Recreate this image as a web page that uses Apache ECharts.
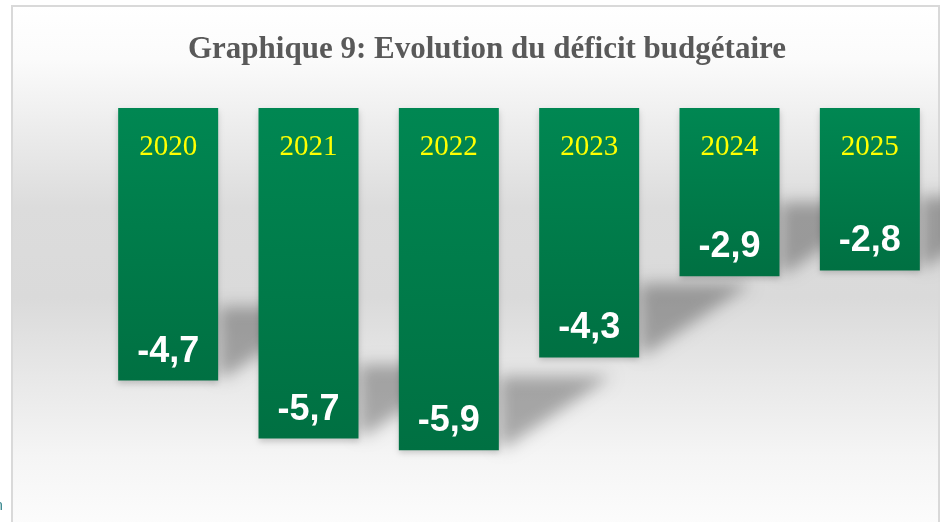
<!DOCTYPE html>
<html lang="fr">
<head>
    <meta charset="UTF-8">
    <title>Graphique 9</title>
    <style>
        *{
            padding: 0;
            margin: 0;
        }
        .EC{
            width: 940px;
            height: 522px;
            background: #fff;
        }
    </style>
</head>
<body>
<div class="EC"></div>
<script src="https://cdn.jsdelivr.net/npm/echarts@6/dist/echarts.min.js"></script>
<script>
    const years = ['2020', '2021', '2022', '2023', '2024', '2025']
    const deficit = [-4.7, -5.7, -5.9, -4.3, -2.9, -2.8]

    const fmt = v => String(v).replace('.', ',')

    window.onload = () => {
        let EC = echarts.init(document.querySelector('.EC'))
        let option = {
            animation: false,
            title: {
                text: 'Graphique 9: Evolution du déficit budgétaire',
                left: 183,
                top: 29,
                textStyle: {
                    fontFamily: 'Liberation Serif',
                    fontWeight: 'bold',
                    fontSize: 31,
                    color: '#595959'
                }
            },
            // cadre + fond dégradé
            graphic: [{
                type: 'rect',
                z: -10,
                shape: { x: 12, y: 6, width: 927, height: 530 },
                style: {
                    fill: new echarts.graphic.LinearGradient(0, 0, 0, 1, [
                        { offset: 0, color: '#ffffff' },
                        { offset: 0.1, color: '#fbfbfb' },
                        { offset: 0.2, color: '#f0f0f0' },
                        { offset: 0.38, color: '#dcdcdc' },
                        { offset: 0.55, color: '#dadada' },
                        { offset: 0.7, color: '#e8e8e8' },
                        { offset: 0.85, color: '#f5f5f5' },
                        { offset: 1, color: '#fdfdfd' }
                    ]),
                    stroke: '#d9d9d9',
                    lineWidth: 2
                }
            }, {
                type: 'text',
                left: -5,
                top: 499,
                style: { text: 'n', fontSize: 14, fill: '#2a7f86', fontFamily: 'Liberation Sans' }
            }],
            grid: {
                left: 98,
                top: 108,
                width: 843,
                height: 406
            },
            xAxis: {
                type: 'category',
                data: years,
                position: 'top',
                z: 10,
                axisLine: { show: false },
                axisTick: { show: false },
                axisLabel: {
                    inside: true,
                    margin: 25,
                    color: '#ffff00',
                    fontFamily: 'Liberation Serif',
                    fontSize: 29
                }
            },
            yAxis: {
                type: 'value',
                min: -7,
                max: 0,
                show: false
            },
            series: [{
                // ombre portée des barres (forme hors champ, seule l'ombre floue est visible)
                type: 'custom',
                z: 1,
                clip: false,
                data: deficit.map((v, i) => [i, v]),
                encode: { x: 0, y: 1 },
                renderItem: (params, api) => {
                    let p = api.coord([api.value(0), api.value(1)])
                    let right = p[0] + 50 - 3000
                    let bottom = p[1]
                    return {
                        type: 'polygon',
                        shape: {
                            points: [
                                [right, bottom - 74],
                                [right + 112, bottom - 74],
                                [right + 8, bottom - 4],
                                [right, bottom - 4]
                            ]
                        },
                        style: {
                            fill: '#000',
                            shadowBlur: 16,
                            shadowOffsetX: 3000,
                            shadowColor: 'rgba(0,0,0,0.3)'
                        }
                    }
                }
            }, {
                type: 'bar',
                z: 2,
                data: deficit,
                barWidth: 100,
                itemStyle: {
                    color: new echarts.graphic.LinearGradient(0, 0, 0, 1, [
                        { offset: 0, color: '#008752' },
                        { offset: 1, color: '#007042' }
                    ]),
                    shadowBlur: 6,
                    shadowOffsetY: 3,
                    shadowColor: 'rgba(0,0,0,0.18)'
                },
                label: {
                    show: true,
                    position: 'insideBottom',
                    distance: 11,
                    color: '#ffffff',
                    fontFamily: 'Liberation Sans',
                    fontWeight: 'bold',
                    fontSize: 36,
                    formatter: p => fmt(p.value)
                }
            }]
        }
        EC.setOption(option)
    }
</script>
</body>
</html>
